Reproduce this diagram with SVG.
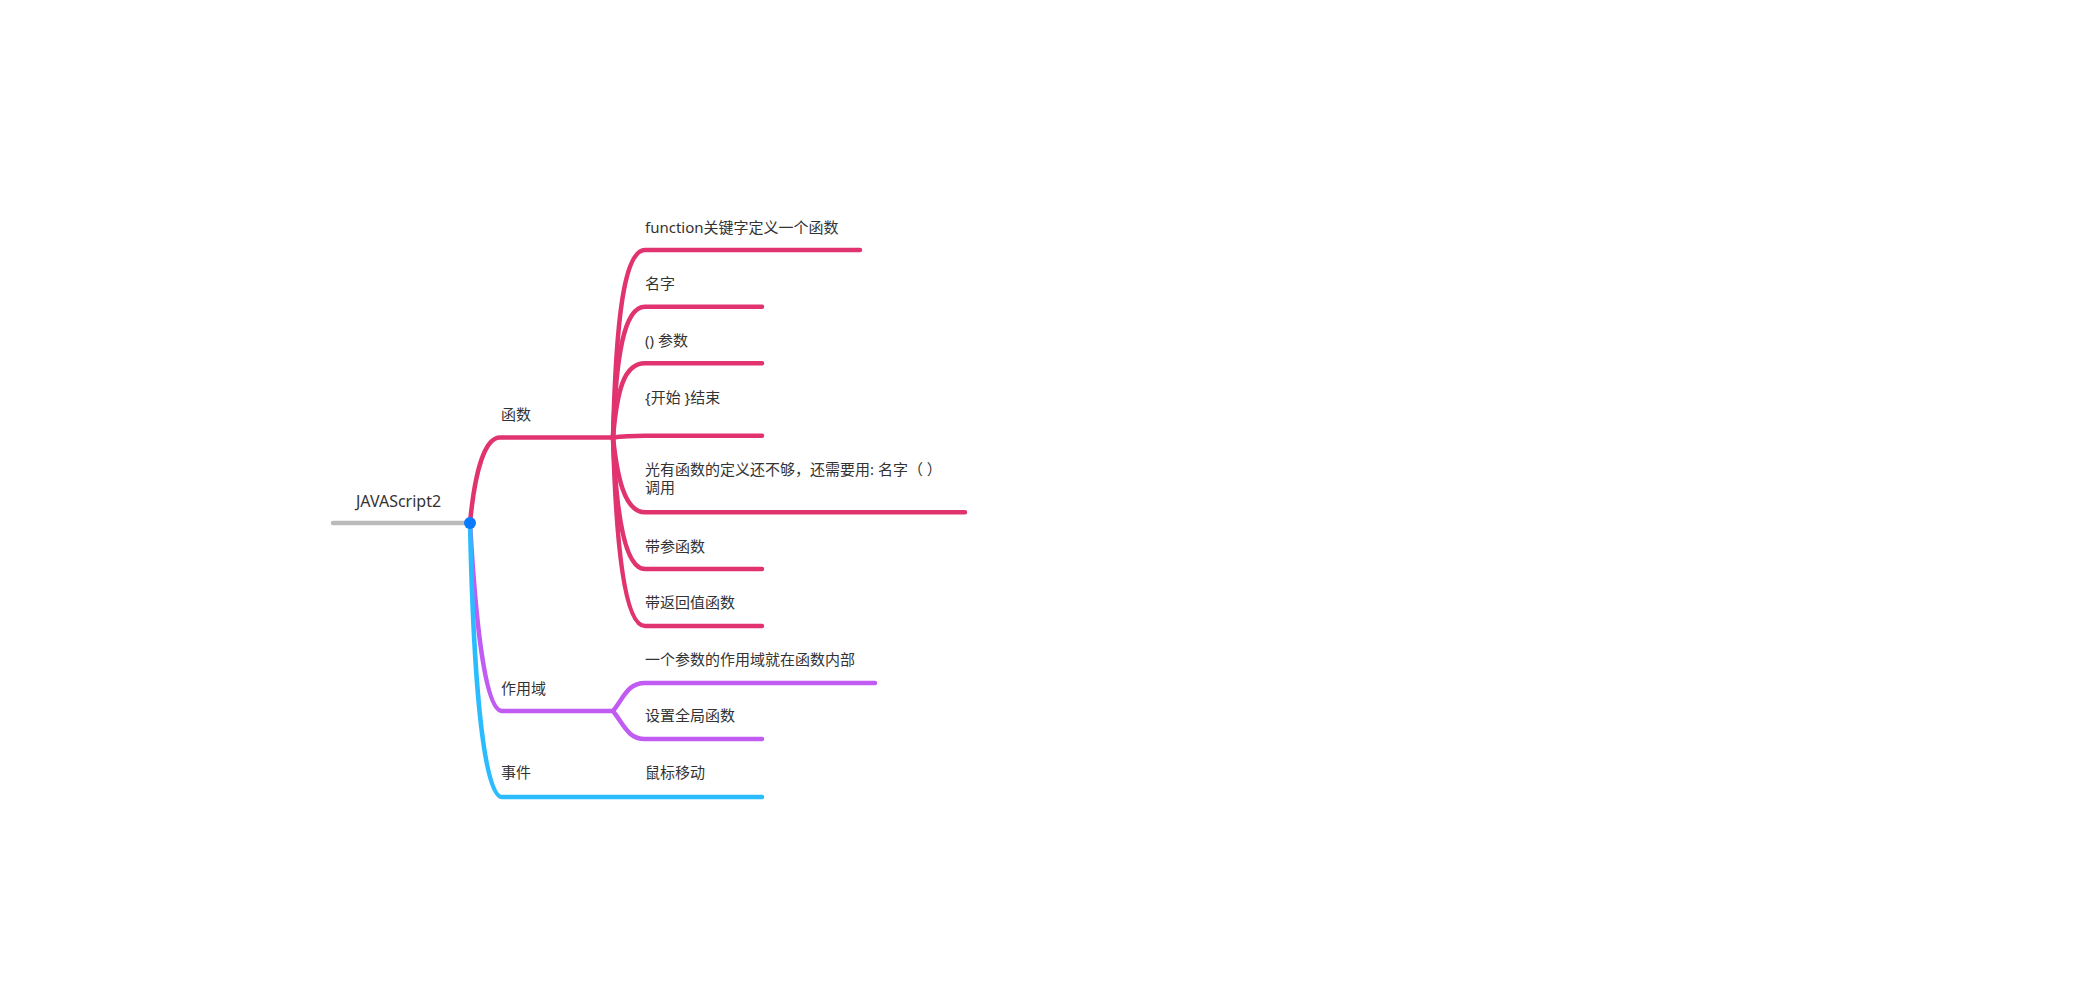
<svg xmlns="http://www.w3.org/2000/svg" width="2099" height="1000" viewBox="0 0 2099 1000">
<style>
  .t { font-family: "Noto Sans", "Noto Sans CJK SC", sans-serif; font-size: 15px; fill: #333333; }
  .root { font-size: 16px; }
  .c { fill: none; stroke-width: 4.5; stroke-linecap: round; stroke-linejoin: round; }
  .pink { stroke: #E0336F; }
  .purple { stroke: #C15CF2; }
  .blue { stroke: #2BBCFF; }
  .grey { stroke: #BBBBBB; }
</style>
<rect width="2099" height="1000" fill="#ffffff"/>
<g id="connectors">
  <path class="c grey" d="M333,523 L470,523"/>
  <!-- 作用域 -->
  <path class="c purple" d="M470,523 C475,610 484,711 502,711 L613,711"/>
  <path class="c purple" d="M613,711 C624,697 628,683 645,683 L875,683"/>
  <path class="c purple" d="M613,711 C624,725 628,739 645,739 L762,739"/>
  <!-- 事件 -->
  <path class="c blue" d="M470,523 C473,660 482,797 502,797 L762,797"/>
  <!-- 函数 -->
  <path class="c pink" d="M470,523 C475,470 485,437.5 500,437.5 L613,437.5"/>
  <path class="c pink" d="M613,437.5 C616,320 624,250 645,250 L860,250"/>
  <path class="c pink" d="M613,437.5 C616,355 624,306.7 645,306.7 L762,306.7"/>
  <path class="c pink" d="M613,437.5 C617,390 624,363.3 645,363.3 L762,363.3"/>
  <path class="c pink" d="M613,437.5 C620,436.5 630,435.7 645,435.7 L762,435.7"/>
  <path class="c pink" d="M613,437.5 C617,475 624,512.3 645,512.3 L965,512.3"/>
  <path class="c pink" d="M613,437.5 C616,510 624,569 645,569 L762,569"/>
  <path class="c pink" d="M613,437.5 C616,540 624,626 645,626 L762,626"/>
</g>
<g id="node-root">
  <text class="t root" x="356" y="507">JAVAScript2</text>
  <circle cx="470" cy="523" r="6" fill="#0A7BFF"/>
</g>
<g id="node-hanshu"><text class="t" x="501" y="420">函数</text></g>
<g id="node-zuoyongyu"><text class="t" x="501" y="694">作用域</text></g>
<g id="node-shijian"><text class="t" x="501" y="778">事件</text></g>
<g id="node-function"><text class="t" x="645" y="233">function关键字定义一个函数</text></g>
<g id="node-mingzi"><text class="t" x="645" y="289">名字</text></g>
<g id="node-canshu"><text class="t" x="645" y="346">() 参数</text></g>
<g id="node-kaishi"><text class="t" x="645" y="403">{开始 }结束</text></g>
<g id="node-guangyou"><text class="t" x="645" y="475"><tspan x="645" y="475">光有函数的定义还不够，还需要用: 名字（ ）</tspan><tspan x="645" y="493">调用</tspan></text></g>
<g id="node-daican"><text class="t" x="645" y="552">带参函数</text></g>
<g id="node-dafanhui"><text class="t" x="645" y="608">带返回值函数</text></g>
<g id="node-yige"><text class="t" x="645" y="665">一个参数的作用域就在函数内部</text></g>
<g id="node-shezhi"><text class="t" x="645" y="721">设置全局函数</text></g>
<g id="node-shubiao"><text class="t" x="645" y="778">鼠标移动</text></g>
</svg>
